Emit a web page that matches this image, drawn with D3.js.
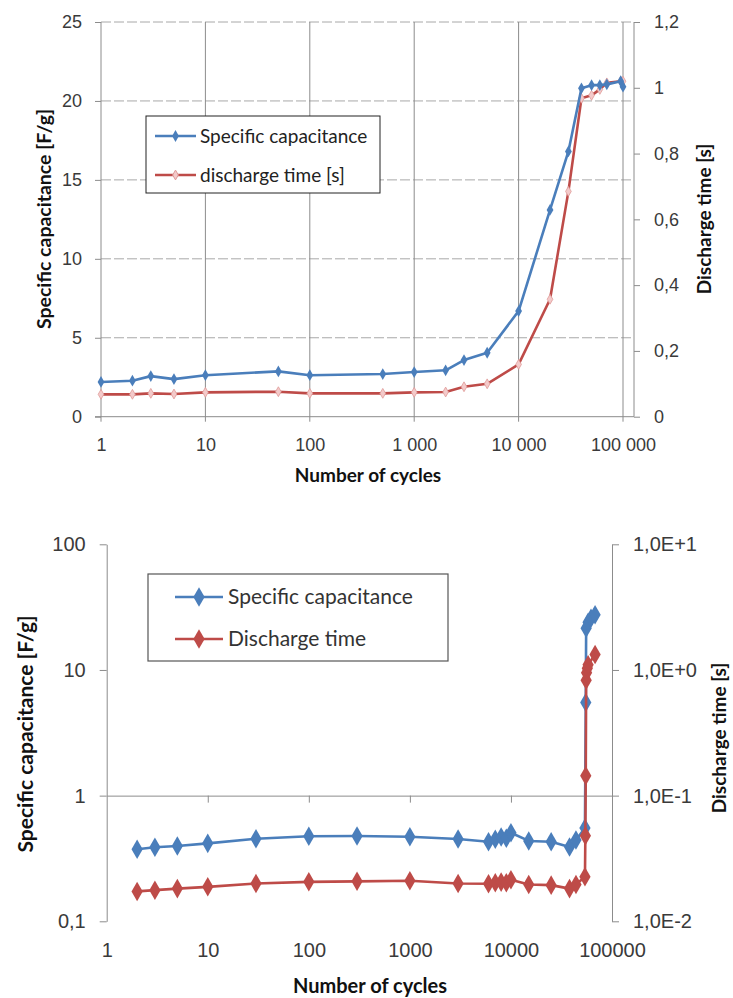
<!DOCTYPE html>
<html><head><meta charset="utf-8">
<script src="https://cdn.jsdelivr.net/npm/d3@7"></script>
<style>
body{margin:0;background:#fff;}
svg{display:block;font-family:Lato,"Open Sans",sans-serif;}
</style></head>
<body><svg id="c" width="733" height="998"></svg>
<script>
// ---------- Top chart data ----------
const topCycles = [1,2,3,5,10,50,100,500,1000,2000,3000,5000,10000,20000,30000,40000,50000,60000,70000,95000,100000];
const topCapacitance = [2.2,2.28,2.57,2.38,2.63,2.87,2.63,2.7,2.83,2.94,3.59,4.05,6.69,13.1,16.8,20.8,21.0,21.0,21.05,21.25,20.9];
const topDischarge = [0.068,0.068,0.071,0.069,0.074,0.076,0.071,0.071,0.074,0.075,0.091,0.1,0.159,0.357,0.685,0.968,0.977,0.995,1.015,1.02,1.02];
const topXTicks = [1,10,100,1000,10000,100000];
const topXTickLabels = ["1","10","100","1 000","10 000","100 000"];
const topLeftTicks = [0,5,10,15,20,25];
const topRightTicks = [0,0.2,0.4,0.6,0.8,1,1.2];
const topRightLabels = ["0","0,2","0,4","0,6","0,8","1","1,2"];
const topLegend = ["Specific capacitance","discharge time [s]"];

// ---------- Bottom chart data ----------
const botCapCycles = [2,3,5,10,30,100,300,1000,3000,6000,7000,8000,9000,10000,15000,25000,38000,44000,54000,55000,55500,58000,62000,68000];
const botCapacitance = [0.374,0.388,0.397,0.417,0.454,0.475,0.477,0.471,0.452,0.43,0.449,0.469,0.458,0.507,0.436,0.43,0.39,0.443,0.552,5.5,21.5,24,25.8,27.5];
const botDisCycles = [2,3,5,10,30,100,300,1000,3000,6000,7000,8000,9000,10000,15000,25000,38000,44000,54000,54500,55000,55500,56000,57000,58000,68000];
const botDischarge = [0.0173,0.0177,0.0182,0.0188,0.02,0.0206,0.0208,0.021,0.02,0.0199,0.0203,0.0205,0.0203,0.0214,0.0196,0.0194,0.0182,0.0196,0.0226,0.048,0.144,0.83,0.95,1.03,1.1,1.33];
const botXTicks = [1,10,100,1000,10000,100000];
const botXTickLabels = ["1","10","100","1000","10000","100000"];
const botLeftTicks = [0.1,1,10,100];
const botLeftLabels = ["0,1","1","10","100"];
const botRightTicks = [0.01,0.1,1,10];
const botRightLabels = ["1,0E-2","1,0E-1","1,0E+0","1,0E+1"];
const botLegend = ["Specific capacitance","Discharge time"];

const BLUE = "#4a7ebb", RED = "#be4b48";
const AXIS = "#8c8c8c", TXT = "#3a3a3a";

const svg = d3.select("#c");
const diamond = d3.symbol().type(d3.symbolDiamond);

// ================= TOP CHART =================
{
  const L = 101, R = 623, RA = 634, T = 22, B = 416.7;
  const x = d3.scaleLog().domain([1,1e5]).range([L,R]);
  const yl = d3.scaleLinear().domain([0,25]).range([B,T]);
  const yr = d3.scaleLinear().domain([0,1.2]).range([B,T]);
  const g = svg.append("g");

  g.selectAll("line.hg").data(topLeftTicks.filter(d=>d>0)).join("line")
    .attr("x1",L).attr("x2",RA).attr("y1",d=>yl(d)).attr("y2",d=>yl(d))
    .attr("stroke","#a8a8a8").attr("stroke-width",1).attr("stroke-dasharray","10,3");
  g.selectAll("line.vg").data(topXTicks).join("line")
    .attr("x1",d=>x(d)).attr("x2",d=>x(d)).attr("y1",T).attr("y2",B+5)
    .attr("stroke",AXIS).attr("stroke-width",1);
  g.append("line").attr("x1",L-6).attr("x2",RA).attr("y1",B).attr("y2",B).attr("stroke",AXIS);
  g.append("line").attr("x1",RA).attr("x2",RA).attr("y1",T).attr("y2",B).attr("stroke",AXIS);

  const la = g.append("g").attr("transform",`translate(${L},0)`)
    .call(d3.axisLeft(yl).tickValues(topLeftTicks).tickSize(6).tickPadding(13).tickSizeOuter(0));
  la.select(".domain").remove();
  la.selectAll(".tick line").attr("stroke",AXIS);
  la.selectAll("text").attr("fill",TXT).style("font-size","18px");

  const ra = g.append("g").attr("transform",`translate(${RA},0)`)
    .call(d3.axisRight(yr).tickValues(topRightTicks).tickFormat((d,i)=>topRightLabels[i]).tickSize(6).tickPadding(14).tickSizeOuter(0));
  ra.select(".domain").remove();
  ra.selectAll(".tick line").attr("stroke",AXIS);
  ra.selectAll("text").attr("fill",TXT).style("font-size","18px");

  const ba = g.append("g").attr("transform",`translate(0,${B})`)
    .call(d3.axisBottom(x).tickValues(topXTicks).tickFormat((d,i)=>topXTickLabels[i]).tickSize(0).tickPadding(22));
  ba.select(".domain").remove();
  ba.selectAll("text").attr("fill",TXT).style("font-size","18px");

  const lineR = d3.line().x((d,i)=>x(topCycles[i])).y(d=>yr(d));
  const lineL = d3.line().x((d,i)=>x(topCycles[i])).y(d=>yl(d));
  g.append("path").attr("d",lineR(topDischarge)).attr("fill","none").attr("stroke",RED).attr("stroke-width",2.6).attr("stroke-linejoin","round");
  g.selectAll("path.rm").data(topDischarge).join("path")
    .attr("transform",(d,i)=>`translate(${x(topCycles[i])},${yr(d)})`)
    .attr("d",diamond.size(28)()).attr("fill","#f3caca").attr("stroke","#df9a98").attr("stroke-width",0.8);
  g.append("path").attr("d",lineL(topCapacitance)).attr("fill","none").attr("stroke",BLUE).attr("stroke-width",2.6).attr("stroke-linejoin","round");
  g.selectAll("path.bm").data(topCapacitance).join("path")
    .attr("transform",(d,i)=>`translate(${x(topCycles[i])},${yl(d)})`)
    .attr("d",diamond.size(40)()).attr("fill",BLUE);

  const lg = g.append("g");
  lg.append("rect").attr("x",146).attr("y",116).attr("width",234).attr("height",77)
    .attr("fill","#fff").attr("stroke","#222").attr("stroke-width",1);
  [[BLUE,136],[RED,175]].forEach(([c,yy],i)=>{
    lg.append("line").attr("x1",155).attr("x2",196).attr("y1",yy).attr("y2",yy).attr("stroke",c).attr("stroke-width",2.6);
    lg.append("path").attr("transform",`translate(175.5,${yy})`).attr("d",diamond.size(i?28:40)())
      .attr("fill",i?"#f3caca":BLUE).attr("stroke",i?"#df9a98":"none");
    lg.append("text").attr("x",200).attr("y",yy+7).text(topLegend[i]).attr("fill","#222").style("font-size","19px");
  });

  g.append("text").attr("transform","translate(51,219) rotate(-90)").attr("text-anchor","middle")
    .style("font-size","19.5px").style("font-weight","bold").attr("fill","#111").text("Specific capacitance [F/g]");
  g.append("text").attr("transform","translate(711,219) rotate(-90)").attr("text-anchor","middle")
    .style("font-size","19px").style("font-weight","bold").attr("fill","#111").text("Discharge time [s]");
  g.append("text").attr("x",368).attr("y",482).attr("text-anchor","middle")
    .style("font-size","19px").style("font-weight","bold").attr("fill","#111").text("Number of cycles");
}

// ================= BOTTOM CHART =================
{
  const L = 106.7, R = 612, T = 544.3, B = 921.3;
  const x = d3.scaleLog().domain([1,1e5]).range([L,R]);
  const yl = d3.scaleLog().domain([0.1,100]).range([B,T]);
  const yr = d3.scaleLog().domain([0.01,10]).range([B,T]);
  const g = svg.append("g");

  const la = g.append("g").attr("transform",`translate(${L},0)`)
    .call(d3.axisLeft(yl).tickValues(botLeftTicks).tickFormat((d,i)=>botLeftLabels[i]).tickSize(7).tickPadding(14).tickSizeOuter(0));
  la.select(".domain").attr("stroke",AXIS);
  la.selectAll(".tick line").attr("stroke",AXIS);
  la.selectAll("text").attr("fill",TXT).style("font-size","20px");

  const ra = g.append("g").attr("transform",`translate(${R},0)`)
    .call(d3.axisRight(yr).tickValues(botRightTicks).tickFormat((d,i)=>botRightLabels[i]).tickSize(7).tickPadding(14).tickSizeOuter(0));
  ra.select(".domain").attr("stroke",AXIS);
  ra.selectAll(".tick line").attr("stroke",AXIS);
  ra.selectAll("text").attr("fill",TXT).style("font-size","20px");

  const y1 = yl(1);
  const xa = g.append("g").attr("transform",`translate(0,${y1})`)
    .call(d3.axisBottom(x).tickValues(botXTicks.slice(1,-1)).tickFormat("").tickSize(7).tickSizeOuter(0));
  xa.select(".domain").attr("stroke",AXIS);
  xa.selectAll(".tick line").attr("stroke",AXIS);
  const xl = g.append("g").attr("transform",`translate(0,${B})`)
    .call(d3.axisBottom(x).tickValues(botXTicks).tickFormat((d,i)=>botXTickLabels[i]).tickSize(0).tickPadding(22));
  xl.select(".domain").remove();
  xl.selectAll("text").attr("fill",TXT).style("font-size","20px");

  const lineL = d3.line().x((d,i)=>x(botCapCycles[i])).y(d=>yl(d));
  const lineR = d3.line().x((d,i)=>x(botDisCycles[i])).y(d=>yr(d));
  g.append("path").attr("d",lineL(botCapacitance)).attr("fill","none").attr("stroke",BLUE).attr("stroke-width",2.6).attr("stroke-linejoin","round");
  g.selectAll("path.bm").data(botCapacitance).join("path")
    .attr("transform",(d,i)=>`translate(${x(botCapCycles[i])},${yl(d)})`)
    .attr("d",diamond.size(110)()).attr("fill",BLUE);
  g.append("path").attr("d",lineR(botDischarge)).attr("fill","none").attr("stroke",RED).attr("stroke-width",2.6).attr("stroke-linejoin","round");
  g.selectAll("path.rm").data(botDischarge).join("path")
    .attr("transform",(d,i)=>`translate(${x(botDisCycles[i])},${yr(d)})`)
    .attr("d",diamond.size(110)()).attr("fill",RED);

  const lg = g.append("g");
  lg.append("rect").attr("x",148).attr("y",574).attr("width",300).attr("height",87)
    .attr("fill","#fff").attr("stroke","#555").attr("stroke-width",1.2);
  [[BLUE,597],[RED,639]].forEach(([c,yy],i)=>{
    lg.append("line").attr("x1",175).attr("x2",223).attr("y1",yy).attr("y2",yy).attr("stroke",c).attr("stroke-width",2.6);
    lg.append("path").attr("transform",`translate(199,${yy})`).attr("d",diamond.size(110)()).attr("fill",c);
    lg.append("text").attr("x",228).attr("y",yy+7).text(botLegend[i]).attr("fill","#333").style("font-size","21px");
  });

  g.append("text").attr("transform","translate(33,734) rotate(-90)").attr("text-anchor","middle")
    .style("font-size","21px").style("font-weight","bold").attr("fill","#111").text("Specific capacitance [F/g]");
  g.append("text").attr("transform","translate(726,738) rotate(-90)").attr("text-anchor","middle")
    .style("font-size","19px").style("font-weight","bold").attr("fill","#111").text("Discharge time [s]");
  g.append("text").attr("x",370).attr("y",993).attr("text-anchor","middle")
    .style("font-size","20px").style("font-weight","bold").attr("fill","#111").text("Number of cycles");
}
</script></body></html>
